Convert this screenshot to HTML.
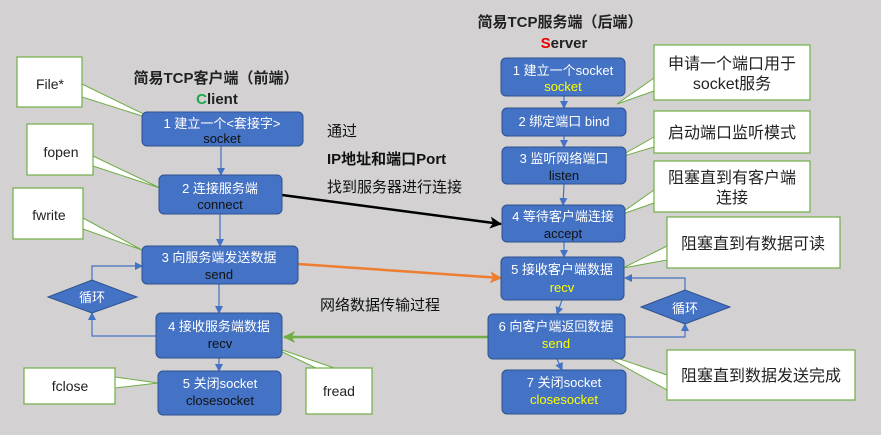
<!DOCTYPE html>
<html><head><meta charset="utf-8"><style>
html,body{margin:0;padding:0;background:#d3d1d1;}
svg{display:block;font-family:"Liberation Sans","Noto Sans CJK SC",sans-serif;}
</style></head><body>
<svg width="883" height="435" viewBox="0 0 883 435" xmlns="http://www.w3.org/2000/svg">
<defs>
<marker id="ab" markerWidth="8" markerHeight="8" refX="7" refY="4" orient="auto" markerUnits="userSpaceOnUse"><path d="M0,0 L8,4 L0,8 z" fill="#4472c4"/></marker>
<marker id="ak" markerWidth="12" markerHeight="12" refX="11" refY="6" orient="auto" markerUnits="userSpaceOnUse"><path d="M0,0 L12,6 L0,12 L3,6 z" fill="#000"/></marker>
<marker id="ao" markerWidth="12" markerHeight="12" refX="11" refY="6" orient="auto" markerUnits="userSpaceOnUse"><path d="M0,0 L12,6 L0,12 L3,6 z" fill="#ed7d31"/></marker>
<marker id="ag" markerWidth="12" markerHeight="12" refX="11" refY="6" orient="auto" markerUnits="userSpaceOnUse"><path d="M0,0 L12,6 L0,12 L3,6 z" fill="#70ad47"/></marker>
</defs>
<rect x="0" y="0" width="883" height="435" fill="#d3d1d1"/>
<rect x="881" y="0" width="2" height="435" fill="#fff"/>

<g font-weight="bold" font-size="15" fill="#222" text-anchor="middle">
<text x="216" y="83">简易TCP客户端（前端）</text>
<text x="217" y="104"><tspan fill="#1fa84a">C</tspan>lient</text>
<text x="560" y="27">简易TCP服务端（后端）</text>
<text x="564" y="48"><tspan fill="#e00">S</tspan>erver</text>
</g>
<g font-size="15" fill="#111">
<text x="327" y="136">通过</text>
<text x="327" y="164" font-weight="bold">IP地址和端口Port</text>
<text x="327" y="192">找到服务器进行连接</text>
<text x="320" y="310">网络数据传输过程</text>
</g>

<g stroke="#4472c4" stroke-width="1.2" fill="none">
<line x1="221" y1="146" x2="221" y2="175" marker-end="url(#ab)"/>
<line x1="220" y1="214" x2="220" y2="246" marker-end="url(#ab)"/>
<line x1="219" y1="284" x2="219" y2="313" marker-end="url(#ab)"/>
<line x1="219" y1="358" x2="219" y2="371" marker-end="url(#ab)"/>
<polyline points="156,336 92,336 92,313" marker-end="url(#ab)"/>
<polyline points="92,280 92,266 142,266" marker-end="url(#ab)"/>
<line x1="564" y1="96" x2="564" y2="108" marker-end="url(#ab)"/>
<line x1="564" y1="136" x2="564" y2="147" marker-end="url(#ab)"/>
<line x1="564" y1="184" x2="563" y2="205" marker-end="url(#ab)"/>
<line x1="564" y1="242" x2="564" y2="257" marker-end="url(#ab)"/>
<line x1="562" y1="300" x2="557" y2="314" marker-end="url(#ab)"/>
<line x1="557" y1="359" x2="562" y2="370" marker-end="url(#ab)"/>
<polyline points="625,337 685,337 685,324" marker-end="url(#ab)"/>
<polyline points="685,290 685,278 625,278" marker-end="url(#ab)"/>
</g>
<line x1="282" y1="195" x2="501" y2="224" stroke="#000" stroke-width="2.5" marker-end="url(#ak)"/>
<line x1="298" y1="264" x2="501" y2="278" stroke="#ed7d31" stroke-width="2.5" marker-end="url(#ao)"/>
<line x1="488" y1="337" x2="284" y2="337" stroke="#70ad47" stroke-width="2.5" marker-end="url(#ag)"/>

<g fill="#fff" stroke="#70ad47" stroke-width="1">
<polygon points="82,84 158,121 82,97"/>
<polygon points="93,156 160,188 93,166"/>
<polygon points="83,218 142,250 83,229"/>
<polygon points="115,377 158,383 115,388"/>
<polygon points="268,345 340,370 320,370"/>
<polygon points="654,78 617,104 654,91"/>
<polygon points="654,137 617,158 654,147"/>
<polygon points="654,190 617,216 654,203"/>
<polygon points="667,246 623,268 667,260"/>
<polygon points="667,375 596,351 667,390"/>
</g>
<g fill="#fff" stroke="#70ad47" stroke-width="1.2">
<rect x="17" y="57" width="65" height="50"/>
<rect x="27" y="124" width="66" height="51"/>
<rect x="13" y="188" width="70" height="51"/>
<rect x="24" y="368" width="91" height="36"/>
<rect x="306" y="368" width="66" height="46"/>
<rect x="654" y="45" width="156" height="55"/>
<rect x="654" y="111" width="156" height="42"/>
<rect x="654" y="161" width="156" height="51"/>
<rect x="667" y="217" width="173" height="51"/>
<rect x="667" y="350" width="188" height="50"/>
</g>
<g font-size="14" fill="#222" text-anchor="middle">
<text x="50" y="89">File*</text>
<text x="61" y="157">fopen</text>
<text x="49" y="220">fwrite</text>
<text x="70" y="391">fclose</text>
<text x="339" y="396">fread</text>
</g>
<g font-size="16" fill="#222" text-anchor="middle">
<text x="732" y="69">申请一个端口用于</text>
<text x="732" y="89">socket服务</text>
<text x="732" y="138">启动端口监听模式</text>
<text x="732" y="183">阻塞直到有客户端</text>
<text x="732" y="203">连接</text>
<text x="753" y="249">阻塞直到有数据可读</text>
<text x="761" y="381">阻塞直到数据发送完成</text>
</g>

<g fill="#4472c4" stroke="#2f528f" stroke-width="1">
<rect x="142" y="112" width="161" height="34" rx="5"/>
<rect x="159" y="175" width="123" height="39" rx="5"/>
<rect x="142" y="246" width="156" height="38" rx="5"/>
<rect x="156" y="313" width="126" height="45" rx="5"/>
<rect x="158" y="371" width="123" height="44" rx="5"/>
<rect x="501" y="58" width="124" height="38" rx="5"/>
<rect x="502" y="108" width="124" height="28" rx="5"/>
<rect x="502" y="147" width="124" height="37" rx="5"/>
<rect x="502" y="205" width="123" height="37" rx="5"/>
<rect x="501" y="257" width="123" height="43" rx="5"/>
<rect x="488" y="314" width="137" height="45" rx="5"/>
<rect x="502" y="370" width="124" height="44" rx="5"/>
<polygon points="48,297 92,280 137,297 92,313"/>
<polygon points="641,307 685,290 730,307 685,324"/>
</g>
<g font-size="13" fill="#fff" text-anchor="middle">
<text x="222" y="128">1 建立一个&lt;套接字&gt;</text>
<text x="220" y="193">2 连接服务端</text>
<text x="219" y="262">3 向服务端发送数据</text>
<text x="219" y="331">4 接收服务端数据</text>
<text x="220" y="388">5 关闭socket</text>
<text x="92" y="302">循环</text>
<text x="563" y="75">1 建立一个socket</text>
<text x="564" y="126">2 绑定端口 bind</text>
<text x="564" y="163">3 监听网络端口</text>
<text x="563" y="221">4 等待客户端连接</text>
<text x="562" y="274">5 接收客户端数据</text>
<text x="556" y="331">6 向客户端返回数据</text>
<text x="564" y="387">7 关闭socket</text>
<text x="685" y="313">循环</text>
</g>
<g font-size="13" fill="#111" text-anchor="middle">
<text x="222" y="143">socket</text>
<text x="220" y="209">connect</text>
<text x="219" y="279">send</text>
<text x="220" y="348">recv</text>
<text x="220" y="405">closesocket</text>
<text x="564" y="180">listen</text>
<text x="563" y="238">accept</text>
</g>
<g font-size="13" fill="#ffff00" text-anchor="middle">
<text x="563" y="91">socket</text>
<text x="562" y="292">recv</text>
<text x="556" y="348">send</text>
<text x="564" y="404">closesocket</text>
</g>
</svg>
</body></html>
